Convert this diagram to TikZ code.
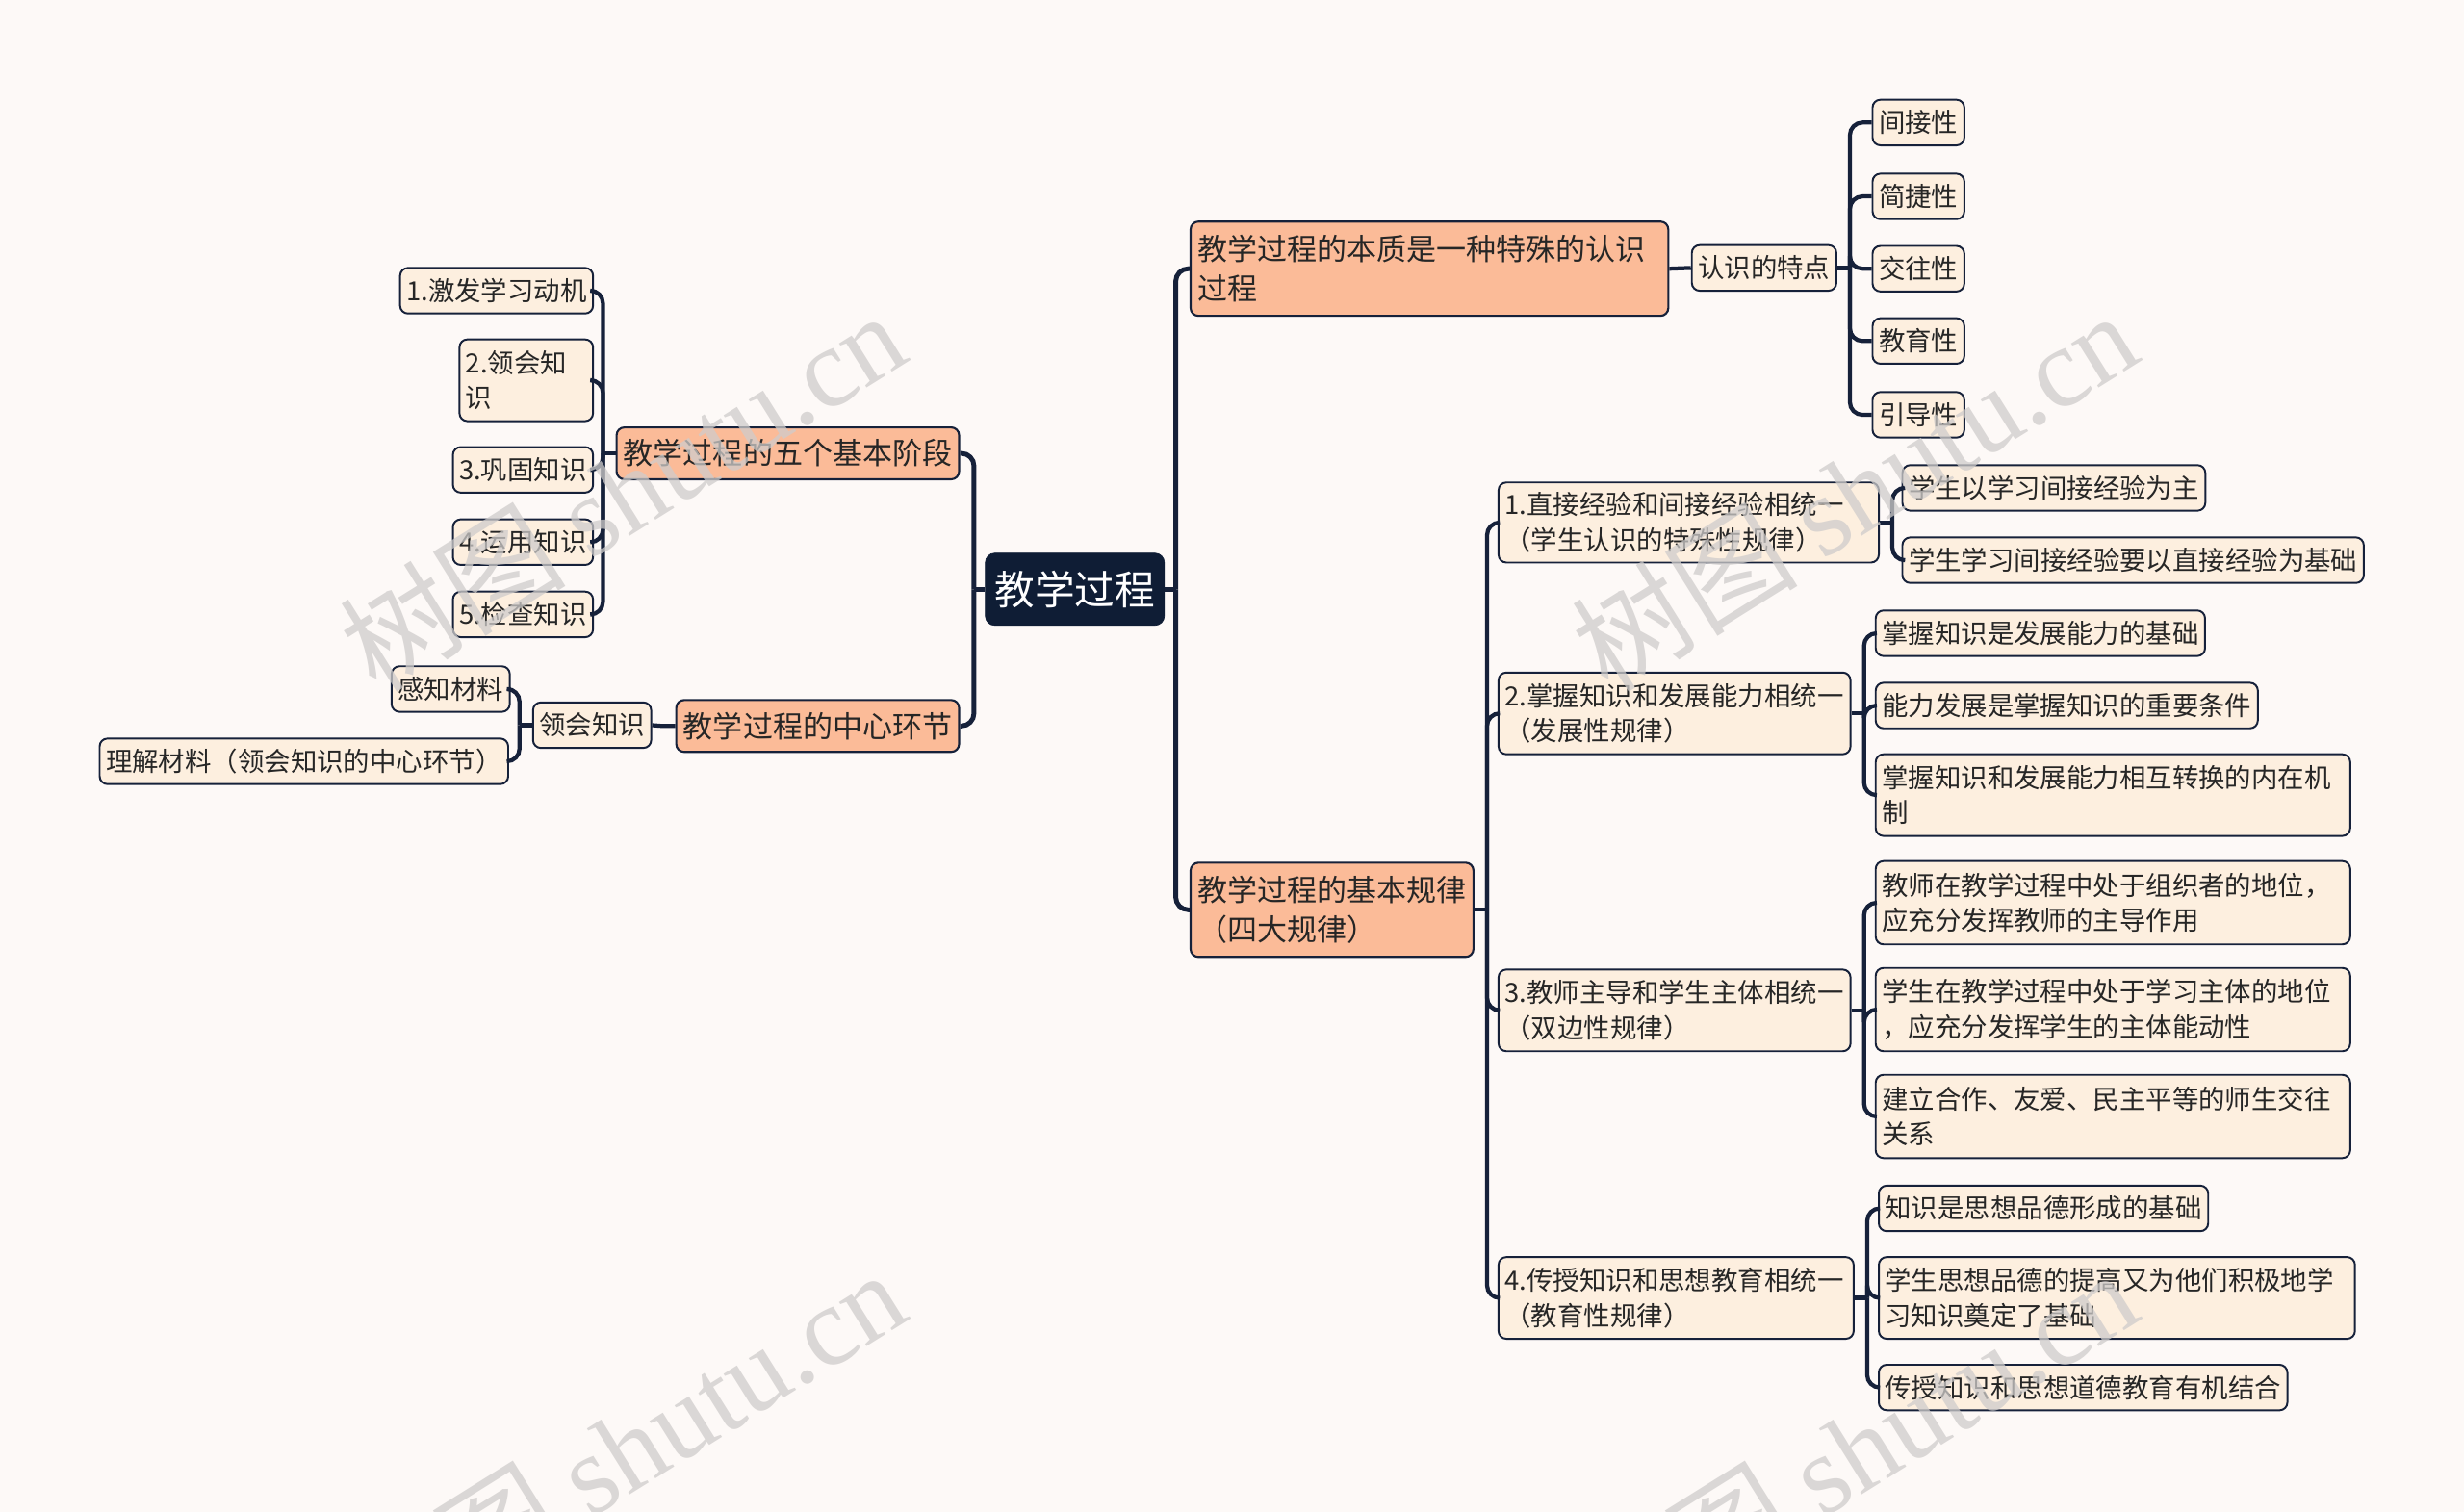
\documentclass[tikz,border=0pt]{standalone}
\usepackage{fontspec}
\setmainfont{Noto Sans CJK SC}
\newfontfamily\wmfont{Liberation Serif}
\usetikzlibrary{positioning}
\definecolor{paper}{HTML}{FDF9F7}
\definecolor{ink}{HTML}{16213A}
\definecolor{rootblue}{HTML}{0F1D35}
\definecolor{peach}{HTML}{FBBB98}
\definecolor{cream}{HTML}{FDEFDF}
\definecolor{wmgray}{HTML}{CFCCCB}
\tikzset {
  rootbox/.style={draw=rootblue, fill=rootblue, text=white, rounded corners=6pt,
    font=\fontsize{25.5}{30}\selectfont, inner xsep=6pt, minimum height=46pt},
  topic/.style={draw=ink, line width=1.3pt, fill=peach, text=black!85, rounded corners=5pt,
    font=\fontsize{19}{25}\selectfont, inner xsep=4.5pt, inner ysep=3pt,
    minimum height=33pt, align=left},
  leaf/.style={draw=ink, line width=1.2pt, fill=cream, text=black!85, rounded corners=5pt,
    font=\fontsize{16.8}{22.5}\selectfont, inner xsep=4pt, inner ysep=3pt,
    minimum height=29pt, align=left},
  link/.style={draw=ink, line width=2.6pt},
  mainlink/.style={draw=ink, line width=3pt},
}

\begin{document}
\begin{tikzpicture}[x=1pt,y=-1pt]
  \fill[paper] (0,0) rectangle (1568,962);
  \useasboundingbox (0,0) rectangle (1568,962);

  \node[rootbox] (root) at (684,375) {教学过程};

  \node[topic, anchor=east] (stages) at (611,288.5) {教学过程的五个基本阶段};
  \node[topic, anchor=east] (hub) at (611,462) {教学过程的中心环节};
  \node[leaf, anchor=east] (s1) at (378,185) {1.激发学习动机};
  \node[leaf, anchor=east, text width=77pt, minimum height=52pt] (s2) at (378,242) {2.领会知\\识};
  \node[leaf, anchor=east] (s3) at (378,299) {3.巩固知识};
  \node[leaf, anchor=east] (s4) at (378,345) {4.运用知识};
  \node[leaf, anchor=east] (s5) at (378,391) {5.检查知识};
  \node[leaf, anchor=east] (grasp) at (415,461.5) {领会知识};
  \node[leaf, anchor=east] (sense) at (325,438.5) {感知材料};
  \node[leaf, anchor=east] (grip) at (324,484.5) {理解材料（领会知识的中心环节）};

  \node[topic, anchor=west, text width=295pt, minimum height=60pt] (essence) at (757,171)
    {教学过程的本质是一种特殊的认识\\过程};
  \node[leaf, anchor=west] (traits) at (1076,170.5) {认识的特点};
  \node[leaf, anchor=west] (t1) at (1191,78) {间接性};
  \node[leaf, anchor=west] (t2) at (1191,125) {简捷性};
  \node[leaf, anchor=west] (t3) at (1191,171) {交往性};
  \node[leaf, anchor=west] (t4) at (1191,217) {教育性};
  \node[leaf, anchor=west] (t5) at (1191,264) {引导性};

  \node[topic, anchor=west, minimum height=60pt] (laws) at (757,579)
    {教学过程的基本规律\\（四大规律）};
  \node[leaf, anchor=west, text width=234pt, minimum height=51pt] (law1) at (953,332.5)
    {1.直接经验和间接经验相统一\\（学生认识的特殊性规律）};
  \node[leaf, anchor=west, text width=216pt, minimum height=52pt] (law2) at (953,454)
    {2.掌握知识和发展能力相统一\\（发展性规律）};
  \node[leaf, anchor=west, text width=216pt, minimum height=52pt] (law3) at (953,643)
    {3.教师主导和学生主体相统一\\（双边性规律）};
  \node[leaf, anchor=west, text width=218pt, minimum height=52pt] (law4) at (953,826)
    {4.传授知识和思想教育相统一\\（教育性规律）};

  \node[leaf, anchor=west] (a1) at (1210,310.5) {学生以学习间接经验为主};
  \node[leaf, anchor=west] (a2) at (1210,356.5) {学生学习间接经验要以直接经验为基础};
  \node[leaf, anchor=west] (b1) at (1193,403) {掌握知识是发展能力的基础};
  \node[leaf, anchor=west] (b2) at (1193,449) {能力发展是掌握知识的重要条件};
  \node[leaf, anchor=west, text width=294pt, minimum height=52pt] (b3) at (1193,506)
    {掌握知识和发展能力相互转换的内在机\\制};
  \node[leaf, anchor=west, text width=294pt, minimum height=53pt] (c1) at (1193,574.5)
    {教师在教学过程中处于组织者的地位，\\应充分发挥教师的主导作用};
  \node[leaf, anchor=west, text width=294pt, minimum height=53pt] (c2) at (1193,642.5)
    {学生在教学过程中处于学习主体的地位\\，应充分发挥学生的主体能动性};
  \node[leaf, anchor=west, text width=294pt, minimum height=53pt] (c3) at (1193,710.5)
    {建立合作、友爱、民主平等的师生交往\\关系};
  \node[leaf, anchor=west] (d1) at (1195,769) {知识是思想品德形成的基础};
  \node[leaf, anchor=west, text width=295pt, minimum height=52pt] (d2) at (1195,826)
    {学生思想品德的提高又为他们积极地学\\习知识奠定了基础};
  \node[leaf, anchor=west] (d3) at (1195,883) {传授知识和思想道德教育有机结合};

  \coordinate (jroot) at ([xshift=7pt]root.east);
  \coordinate (jleft) at ([xshift=-7pt]root.west);
  \draw[mainlink] (root.east) -- (jroot);
  \draw[mainlink] (root.west) -- (jleft);
  \foreach \c in {essence,laws}
    \draw[mainlink,rounded corners=8pt] (jroot) |- (\c.west);
  \foreach \c in {stages,hub}
    \draw[mainlink,rounded corners=8pt] (jleft) |- (\c.east);

  \coordinate (jst) at ([xshift=-8pt]stages.west);
  \draw[link] (stages.west) -- (jst);
  \foreach \c in {s1,s2,s3,s4,s5}
    \draw[link,rounded corners=8pt] (jst) |- (\c.east);

  \coordinate (jhub) at ([xshift=-8pt]hub.west);
  \draw[link] (hub.west) -- (jhub) -- (grasp.east);
  \coordinate (jgr) at ([xshift=-8pt]grasp.west);
  \draw[link] (grasp.west) -- (jgr);
  \foreach \c in {sense,grip}
    \draw[link,rounded corners=8pt] (jgr) |- (\c.east);

  \draw[link] (essence.east) -- (traits.west);
  \coordinate (jtr) at ([xshift=8pt]traits.east);
  \draw[link] (traits.east) -- (jtr);
  \foreach \c in {t1,t2,t3,t4,t5}
    \draw[link,rounded corners=8pt] (jtr) |- (\c.west);

  \coordinate (jlaw) at ([xshift=8pt]laws.east);
  \draw[link] (laws.east) -- (jlaw);
  \foreach \c in {law1,law2,law3,law4}
    \draw[link,rounded corners=8pt] (jlaw) |- (\c.west);

  \coordinate (ja) at ([xshift=8pt]law1.east);
  \draw[link] (law1.east) -- (ja);
  \foreach \c in {a1,a2}
    \draw[link,rounded corners=8pt] (ja) |- (\c.west);
  \coordinate (jb) at ([xshift=8pt]law2.east);
  \draw[link] (law2.east) -- (jb);
  \foreach \c in {b1,b2,b3}
    \draw[link,rounded corners=8pt] (jb) |- (\c.west);
  \coordinate (jc) at ([xshift=8pt]law3.east);
  \draw[link] (law3.east) -- (jc);
  \foreach \c in {c1,c2,c3}
    \draw[link,rounded corners=8pt] (jc) |- (\c.west);
  \coordinate (jd) at ([xshift=8pt]law4.east);
  \draw[link] (law4.east) -- (jd);
  \foreach \c in {d1,d2,d3}
    \draw[link,rounded corners=8pt] (jd) |- (\c.west);

  \foreach \wx/\wy in {396/312,1180/312,396/922,1180/922}
    \node[rotate=32, text=wmgray, opacity=0.75, font=\fontsize{72}{80}\selectfont]
      at (\wx,\wy) {树图 {\wmfont shutu.cn}};
\end{tikzpicture}
\end{document}
